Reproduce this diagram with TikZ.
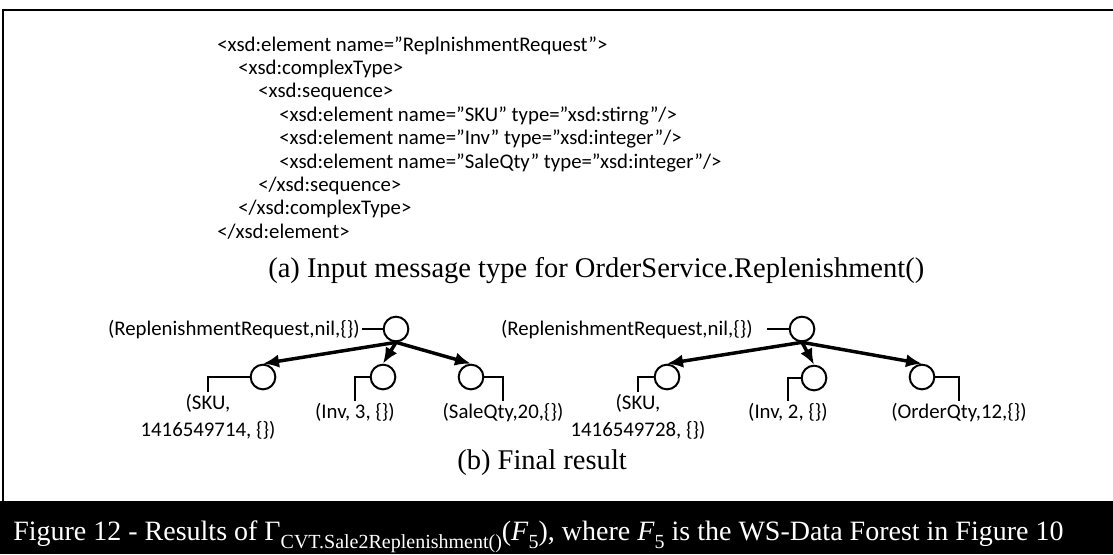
\documentclass[tikz,border=0pt]{standalone}
\usepackage{fontspec}
\setmainfont{Liberation Serif}
\newfontfamily\calib{Carlito}
\usetikzlibrary{arrows.meta}

\newcommand{\lowsub}[1]{\raisebox{-6.5pt}{\fontsize{15pt}{15pt}\selectfont #1}}

\begin{document}
\begin{tikzpicture}[x=0.75pt,y=-0.75pt,
    xml/.style={anchor=base west,inner sep=0pt,font=\calib\fontsize{15.6pt}{17.5pt}\selectfont},
    elem/.style={circle,draw,line width=1.5pt,minimum size=18.5pt,inner sep=0pt},
    lab/.style={anchor=north,inner sep=1.5pt,align=center,font=\calib\fontsize{15.6pt}{20pt}\selectfont},
    tick/.style={line width=1.4pt},
    edge/.style={line width=2.6pt,-{Latex[length=12pt,width=10pt]}},
    subcap/.style={anchor=base west,inner sep=0pt,font=\fontsize{21.4pt}{24pt}\selectfont}]
\useasboundingbox (0,0) rectangle (1113,554);

% frame and caption band
\draw[line width=1.8pt] (3,501) -- (3,10) -- (1113,10);
\fill[black] (0,501) rectangle (1113,554);

% (a) XSD of the input message
\node[xml] (x1) at (217,51) {<xsd:element name=”ReplnishmentRequest”>};
\node[xml] (x2) at (238,74.4) {<xsd:complexType>};
\node[xml] (x3) at (258,97.8) {<xsd:sequence>};
\node[xml] (x4) at (279,121.2) {<xsd:element name=”SKU” type=”xsd:stirng”/>};
\node[xml] (x5) at (279,144.6) {<xsd:element name=”Inv” type=”xsd:integer”/>};
\node[xml] (x6) at (279,168) {<xsd:element name=”SaleQty” type=”xsd:integer”/>};
\node[xml] (x7) at (258,191.4) {</xsd:sequence>};
\node[xml] (x8) at (238,214.8) {</xsd:complexType>};
\node[xml] (x9) at (217,238.2) {</xsd:element>};
\node[subcap] (capa) at (268,277) {(a) Input message type for OrderService.Replenishment()};

% (b) left tree
\node[elem] (lroot) at (396,329) {};
\node[elem] (lsku) at (263,377) {};
\node[elem] (linv) at (383,377) {};
\node[elem] (lsale) at (471,377) {};
\node[lab,anchor=base east] (lrootlab) at (362,335) {(ReplenishmentRequest,nil,\{\})};
\node[lab] (lskulab) at (208,392) {(SKU,\\1416549714, \{\})};
\node[lab] (linvlab) at (355,401) {(Inv, 3, \{\})};
\node[lab] (lsalelab) at (503,401) {(SaleQty,20,\{\})};
\draw[tick] (lroot.west -| lrootlab.east) -- (lroot.west);
\draw[tick] (lsku.west) -| (lskulab.north);
\draw[tick] (linv.west) -| (linvlab.north);
\draw[tick] (lsale.east) -| (lsalelab.north);
\draw[edge] (lroot.south) -- (lsku.north);
\draw[edge] (lroot.south) -- (linv.north);
\draw[edge] (lroot.south) -- (lsale.north);

% (b) right tree
\node[elem] (rroot) at (802,329) {};
\node[elem] (rsku) at (667,377) {};
\node[elem] (rinv) at (814,378) {};
\node[elem] (rorder) at (922,377) {};
\node[lab,anchor=base east] (rrootlab) at (755,335) {(ReplenishmentRequest,nil,\{\})};
\node[lab] (rskulab) at (638,392) {(SKU,\\1416549728, \{\})};
\node[lab] (rinvlab) at (788,401) {(Inv, 2, \{\})};
\node[lab] (rorderlab) at (959,401) {(OrderQty,12,\{\})};
\draw[tick,shorten <=9pt] (rroot.west -| rrootlab.east) -- (rroot.west);
\draw[tick] (rsku.west) -| (rskulab.north);
\draw[tick] (rinv.west) -| (rinvlab.north);
\draw[tick] (rorder.east) -| (rorderlab.north);
\draw[edge] (rroot.south) -- (rsku.north);
\draw[edge] (rroot.south) -- (rinv.north);
\draw[edge] (rroot.south) -- (rorder.north);

\node[subcap] (capb) at (457,469) {(b) Final result};

% figure caption
\node[anchor=base west,inner sep=0pt,text=white,font=\fontsize{21pt}{24pt}\selectfont] (fig) at (13,540)
    {Figure 12 - Results of Γ\lowsub{CVT.Sale2Replenishment()}(\textit{F}\lowsub{5}), where \textit{F}\lowsub{5} is the WS-Data Forest in Figure 10};
\end{tikzpicture}
\end{document}
